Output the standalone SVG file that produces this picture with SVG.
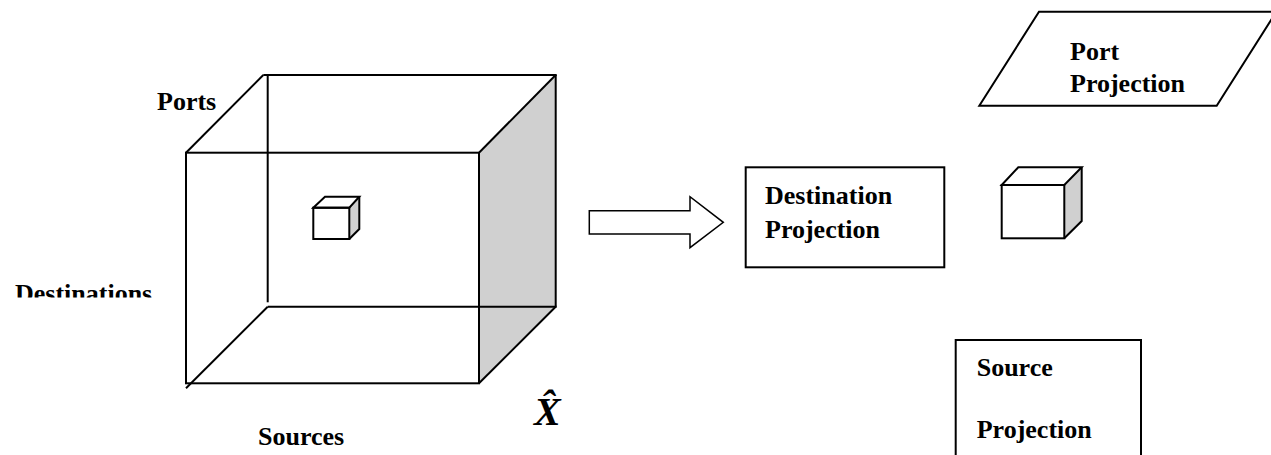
<svg xmlns="http://www.w3.org/2000/svg" width="1271" height="455" viewBox="0 0 1271 455">
<style>
.ln{fill:none;stroke:#000;stroke-width:2;stroke-linecap:butt}
.sh{fill:#d0d0d0;stroke:none}
.bx{fill:#fff;stroke:#000;stroke-width:2}
.t{font-family:"Liberation Serif","Times New Roman",serif;font-weight:bold;font-size:26px;fill:#000}
.m{font-family:"Liberation Serif","Times New Roman",serif;font-weight:bold;font-style:italic;font-size:40px;fill:#000}
</style>
<defs>
<clipPath id="clipDest"><rect x="0" y="0" width="300" height="297.5"/></clipPath>
</defs>
<rect width="1271" height="455" fill="#fff"/>
<g id="big-cube">
<polygon class="sh" points="479,152.7 555.7,75 555.7,306.7 479,383.3"/>
<line class="ln" x1="263.3" y1="75" x2="556.7" y2="75"/>
<line class="ln" x1="267.7" y1="75" x2="267.7" y2="302.3"/>
<line class="ln" x1="267.7" y1="306.7" x2="556.7" y2="306.7"/>
<line class="ln" x1="555.7" y1="75" x2="555.7" y2="306.7"/>
<rect class="ln" x="186" y="152.7" width="293" height="230.6"/>
<line class="ln" x1="186" y1="152.7" x2="263.3" y2="75"/>
<line class="ln" x1="479" y1="152.7" x2="555.7" y2="75"/>
<line class="ln" x1="479" y1="383.3" x2="555.7" y2="306.7"/>
<line class="ln" x1="186" y1="388.3" x2="267.7" y2="306.7"/>
</g>
<g id="inner-cube">
<polygon class="sh" points="349.3,207.7 359.3,196.7 359.3,229 349.3,239"/>
<polygon class="ln" points="313.3,207.7 325,196.7 359.3,196.7 349.3,207.7"/>
<polyline class="ln" points="349.3,239 359.3,229 359.3,196.7"/>
<rect class="ln" x="313.3" y="207.7" width="36" height="31.3"/>
</g>
<g id="label-ports"><text class="t" x="157" y="110">Ports</text></g>
<g id="label-destinations" clip-path="url(#clipDest)"><text class="t" x="15" y="302">Destinations</text></g>
<g id="label-sources"><text class="t" x="258" y="445">Sources</text></g>
<g id="label-xhat"><text class="m" x="534" y="425">X̂</text></g>
<g id="connectors">
<polygon points="589.3,210.7 690,210.7 690,196.7 723.3,222.3 690,247.7 690,234 589.3,234" style="fill:#fff;stroke:#000;stroke-width:1.5"/>
</g>
<g id="destination-projection">
<rect class="bx" x="745.7" y="167.3" width="198.6" height="100"/>
<text class="t" x="765" y="203.5">Destination</text>
<text class="t" x="765" y="237.5">Projection</text>
</g>
<g id="small-cube">
<polygon class="sh" points="1064.3,185 1081.7,167.3 1081.7,221 1064.3,238.3"/>
<polygon class="ln" points="1001.7,185 1018.3,167.3 1081.7,167.3 1064.3,185"/>
<polyline class="ln" points="1064.3,238.3 1081.7,221 1081.7,167.3"/>
<rect class="ln" x="1001.7" y="185" width="62.6" height="53.3"/>
</g>
<g id="port-projection">
<polygon class="bx" points="979.3,105.7 1039,11.7 1276.4,11.7 1216.7,105.7"/>
<text class="t" x="1070" y="60">Port</text>
<text class="t" x="1070" y="91.5">Projection</text>
</g>
<g id="source-projection">
<rect class="bx" x="955.7" y="340" width="185.3" height="130"/>
<text class="t" x="976.7" y="376">Source</text>
<text class="t" x="976.7" y="438">Projection</text>
</g>
</svg>
